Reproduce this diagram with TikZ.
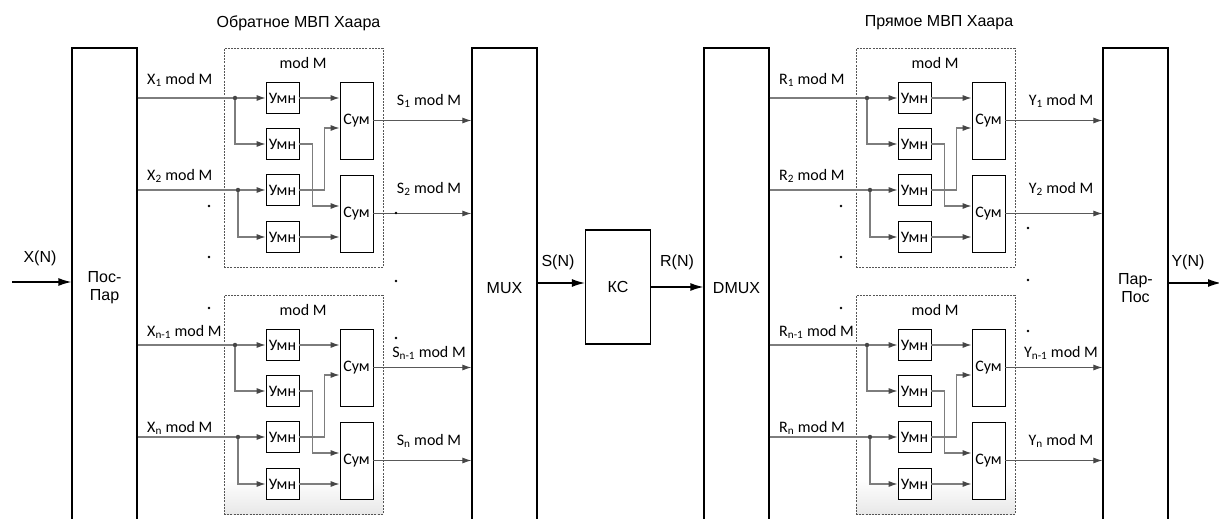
\documentclass[tikz,border=0pt]{standalone}
\usepackage{fontspec}
\setmainfont{Liberation Sans}
\newfontfamily\calfont{Carlito}
\usetikzlibrary{arrows.meta}
\definecolor{siggray}{RGB}{125,125,125}
\definecolor{tipgray}{RGB}{70,70,70}
\definecolor{framegray}{RGB}{85,85,85}

\begin{document}
\begin{tikzpicture}[x=1pt, y=-1pt,
	block/.style={draw, line width=1.3pt, minimum width=65pt, minimum height=480pt, inner sep=0pt, align=center, font=\fontsize{16}{18}\selectfont},
	umn/.style={draw, fill=white, line width=0.7pt, minimum width=33pt, minimum height=31pt, inner sep=0pt, font=\calfont\fontsize{16}{18}\selectfont},
	sumbox/.style={umn, minimum height=77pt},
	modframe/.style={draw=framegray, line width=0.6pt, dash pattern=on 2pt off 1.2pt, minimum width=159pt, minimum height=219pt, inner sep=0pt},
	wire/.style={draw=siggray, line width=1.2pt},
	sig/.style={wire, -{Latex[length=9pt,width=6pt,color=tipgray]}},
	outsig/.style={draw=black!65, line width=0.9pt, -{Latex[length=9pt,width=6pt,color=tipgray]}},
	bus/.style={draw, line width=1.3pt, -{Latex[length=13pt,width=8pt]}},
	junc/.style={circle, fill=tipgray, inner sep=0pt, minimum size=4.5pt},
	dotpt/.style={circle, fill=black, inner sep=0pt, minimum size=2.6pt},
	lab/.style={font=\fontsize{16}{18}\selectfont},
	clab/.style={font=\calfont\fontsize{16}{18}\selectfont, inner sep=0pt}]
	%Bildbereich
	\clip (0,0) rectangle (1219,519);
	% Bloecke zeichnen
	\node[block] (pospar) at (104.5,288) {Пос-\\Пар};
	\node[block] (mux) at (504.5,288) {MUX};
	\node[block] (dmux) at (736.5,288) {DMUX};
	\node[block] (parpos) at (1135.5,288) {Пар-\\Пос};
	\node[block, minimum height=114pt] (kc) at (618,287) {КС};
	% Ueberschriften
	\node[lab] (titleinv) at (298.5,23) {Обратное МВП Хаара};
	\node[lab] (titlefwd) at (939,23) {Прямое МВП Хаара};
	% Module mod M
	\foreach \dx/\dy/\m/\src/\dst/\li/\lo/\sa/\sb/\ly/\sh in {0/0/a/pospar/mux/X/S/1/2/0/0, 632/0/b/dmux/parpos/R/Y/1/2/0/0, 0/247/c/pospar/mux/X/S/{n-1}/n/5/18, 632/247/d/dmux/parpos/R/Y/{n-1}/n/5/18}{
		\shade[top color=white, bottom color=gray!\sh] (224+\dx,232+\dy) rectangle (383+\dx,267+\dy);
		\node[modframe] (f\m) at (303.5+\dx,157.5+\dy) {};
		\node[clab] (mod\m) at (303+\dx,63+\dy) {mod M};
		\foreach \k/\y in {1/98,2/144,3/190,4/237}
			\node[umn] (u\m\k) at (282.5+\dx,\y+\dy) {Умн};
		\node[sumbox] (s\m1) at (356.5+\dx,120.5+\dy) {Сум};
		\node[sumbox] (s\m2) at (356.5+\dx,213.5+\dy) {Сум};
		\node[junc] (j\m1) at (235+\dx,98+\dy) {};
		\node[junc] (j\m2) at (238+\dx,190+\dy) {};
		% Eingaenge
		\draw[wire] (\src.east |- j\m1) -- (j\m1);
		\draw[wire] (\src.east |- j\m2) -- (j\m2);
		\draw[sig] (j\m1) -- (u\m1);
		\draw[sig] (j\m1) |- (u\m2);
		\draw[sig] (j\m2) -- (u\m3);
		\draw[sig] (j\m2) |- (u\m4);
		% Summierer
		\draw[sig] (u\m1) -- (s\m1.west |- u\m1);
		\draw[sig] (u\m4) -- (s\m2.west |- u\m4);
		\draw[sig] (u\m3.east) -- ++(25,0) |- ([yshift=-7.5pt]s\m1.west);
		\draw[sig] (u\m2.east) -- ++(13,0) |- ([yshift=7.5pt]s\m2.west);
		% Ausgaenge
		\draw[outsig] (s\m1) -- (\dst.west |- s\m1);
		\draw[outsig] (s\m2) -- (\dst.west |- s\m2);
		% Beschriftung
		\node[clab, anchor=west] (in\m1) at (147+\dx,80+\dy+\ly) {\li\textsubscript{\sa} mod M};
		\node[clab, anchor=west] (in\m2) at (147+\dx,176+\dy+\ly) {\li\textsubscript{\sb} mod M};
		\node[clab] (out\m1) at (429+\dx,101+\dy+\ly) {\lo\textsubscript{\sa} mod M};
		\node[clab] (out\m2) at (429+\dx,189+\dy+\ly) {\lo\textsubscript{\sb} mod M};
	}
	% Punkte
	\foreach \x/\y [count=\i] in {209/206, 209/257, 209/308, 841/206, 841/257, 841/308, 396/213, 396/281, 396/338, 1028/228, 1028/280, 1028/331}
		\node[dotpt] (dot\i) at (\x,\y) {};
	% Signale
	\coordinate (xin) at (12,282);
	\coordinate (yout) at (1221,283);
	\draw[bus] (xin) -- (pospar.west |- xin);
	\draw[bus] ([yshift=4pt]kc.west -| mux.east) -- ([yshift=4pt]kc.west);
	\draw[bus] (kc.east) -- (kc.east -| dmux.west);
	\draw[bus] (parpos.east |- yout) -- (yout);
	\node[lab] (xlab) at (40,258) {X(N)};
	\node[lab] (slab) at (558,262) {S(N)};
	\node[lab] (rlab) at (677,262) {R(N)};
	\node[lab] (ylab) at (1188,262) {Y(N)};
\end{tikzpicture}
\end{document}
